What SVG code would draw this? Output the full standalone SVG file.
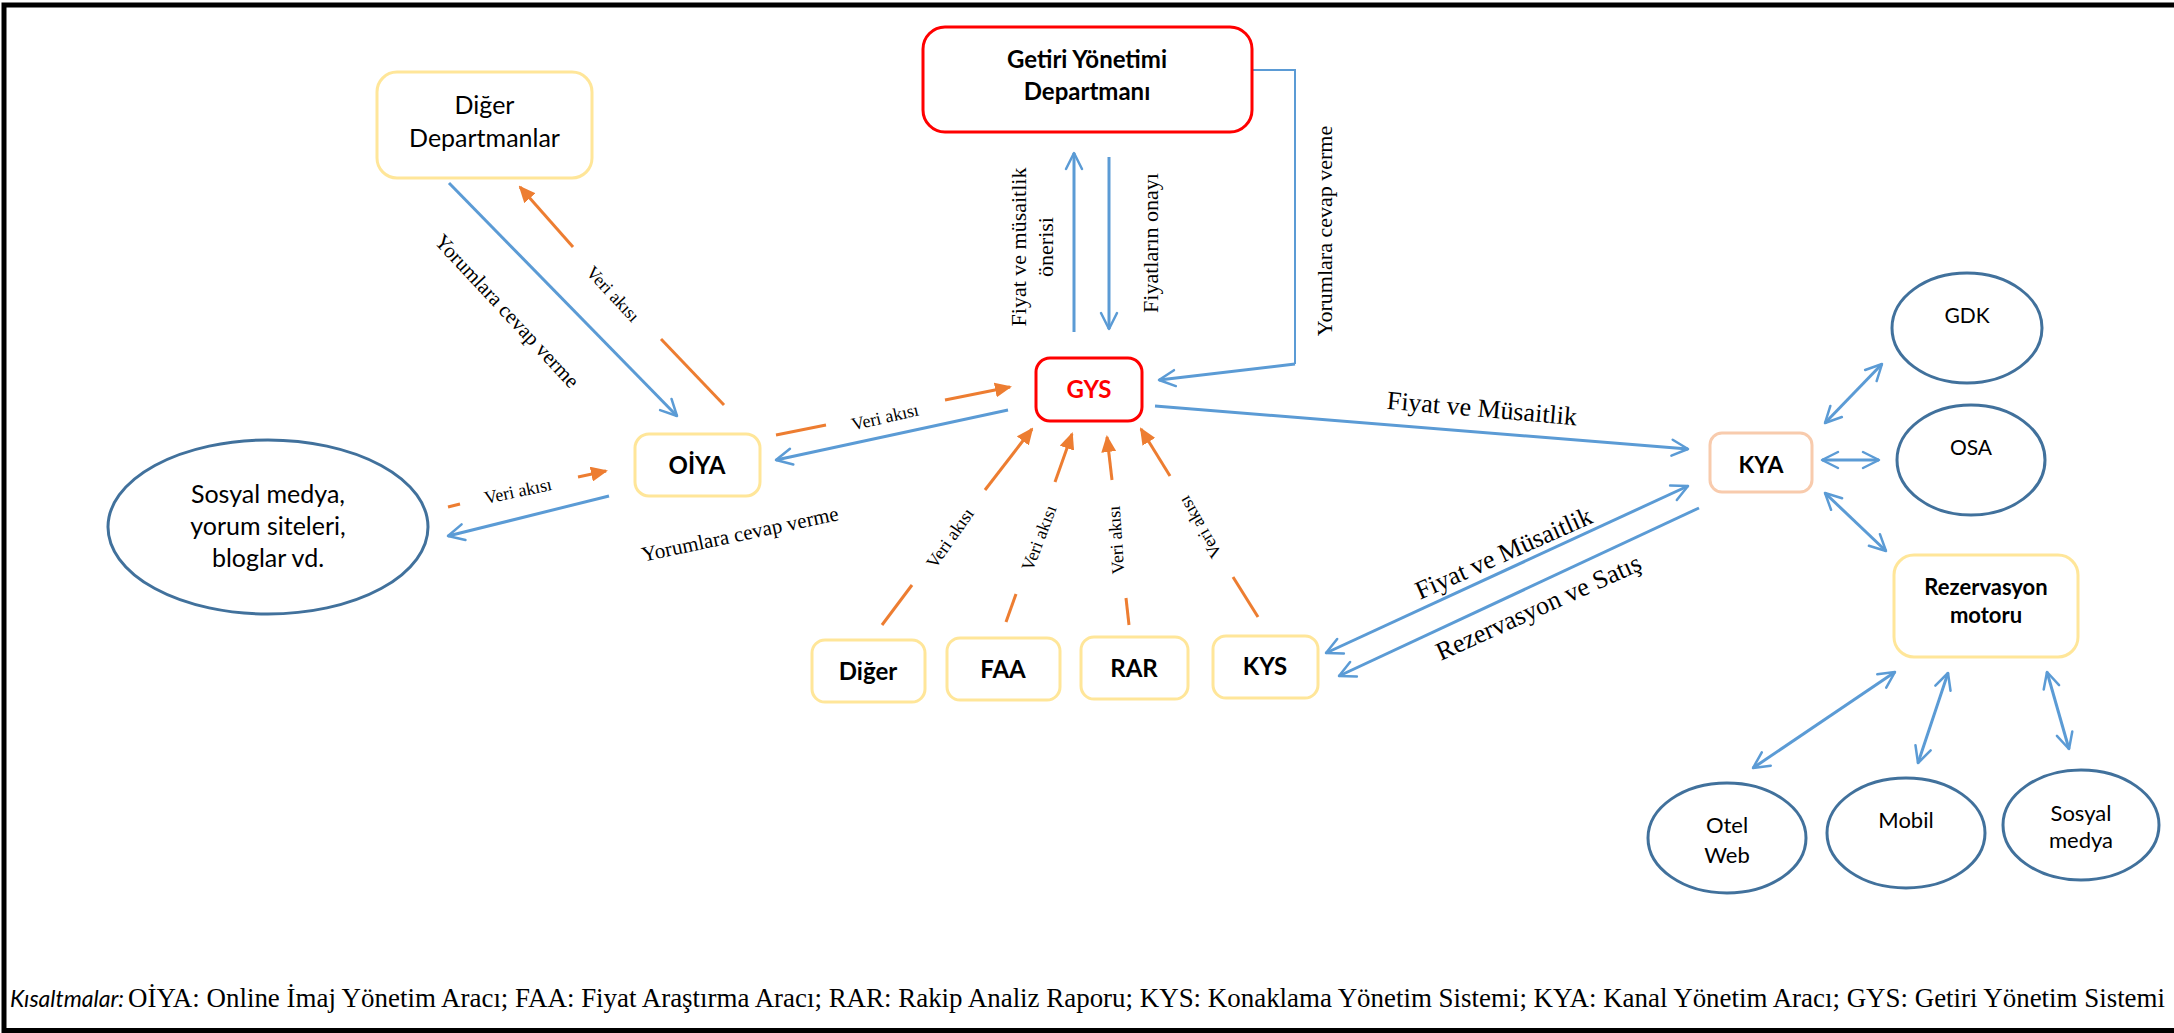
<svg xmlns="http://www.w3.org/2000/svg" width="2174" height="1033" viewBox="0 0 2174 1033">
  <style>
    .box { fill: #fff; stroke-width: 3; }
    .yel { stroke: #FFE699; }
    .red { stroke: #FF0000; }
    .peach { stroke: #F8CBAD; }
    .ell { fill: #fff; stroke: #41719C; stroke-width: 3; }
    .nd { font-family: Lato, "Open Sans", sans-serif; fill: #000; text-anchor: middle; }
    .b { font-weight: bold; }
    .lbl { font-family: "Liberation Serif", "Times New Roman", serif; fill: #000; text-anchor: middle; }
    .bl { stroke: #5B9BD5; stroke-width: 3; fill: none; }
    .thin { stroke-width: 2; }
    .or { stroke: #ED7D31; stroke-width: 3; fill: none; }
  </style>
  <defs>
    <marker id="open" viewBox="0 0 20 20" refX="18" refY="10" markerWidth="20" markerHeight="20" markerUnits="userSpaceOnUse" orient="auto-start-reverse">
      <path d="M2,2 L18,10 L2,18" fill="none" stroke="#5B9BD5" stroke-width="2.5" stroke-linecap="round" stroke-linejoin="round"/>
    </marker>
    <marker id="fill" viewBox="0 0 17 15" refX="15" refY="7.5" markerWidth="17" markerHeight="15" markerUnits="userSpaceOnUse" orient="auto">
      <path d="M0,0 L17,7.5 L0,15 z" fill="#ED7D31"/>
    </marker>
  </defs>

  <rect width="2174" height="1033" fill="#fff"/>
  <!-- frame: top, left and bottom rules -->
  <path d="M4,1033 V5 H2174 M4,1030.5 H2174" fill="none" stroke="#000" stroke-width="5"/>

  <g id="connectors">
    <!-- blue flows -->
    <line class="bl" x1="449" y1="183" x2="677" y2="416" marker-end="url(#open)"/>
    <line class="bl" x1="1008" y1="410" x2="776" y2="460" marker-end="url(#open)"/>
    <line class="bl" x1="609" y1="496" x2="448" y2="536" marker-end="url(#open)"/>
    <line class="bl" x1="1074" y1="332" x2="1074" y2="153" marker-end="url(#open)"/>
    <line class="bl" x1="1109" y1="157" x2="1109" y2="329" marker-end="url(#open)"/>
    <polyline class="bl thin" points="1252,70 1295,70 1295,364"/>
    <line class="bl" x1="1295" y1="364" x2="1159" y2="380" marker-end="url(#open)"/>
    <line class="bl" x1="1155" y1="406" x2="1688" y2="449" marker-end="url(#open)"/>
    <line class="bl" x1="1326" y1="653" x2="1688" y2="486" marker-start="url(#open)" marker-end="url(#open)"/>
    <line class="bl" x1="1699" y1="508" x2="1339" y2="676" marker-end="url(#open)"/>
    <line class="bl" x1="1825" y1="423" x2="1882" y2="364" marker-start="url(#open)" marker-end="url(#open)"/>
    <line class="bl" x1="1822" y1="460" x2="1879" y2="460" marker-start="url(#open)" marker-end="url(#open)"/>
    <line class="bl" x1="1825" y1="493" x2="1886" y2="551" marker-start="url(#open)" marker-end="url(#open)"/>
    <line class="bl" x1="1895" y1="672" x2="1753" y2="768" marker-start="url(#open)" marker-end="url(#open)"/>
    <line class="bl" x1="1948" y1="673" x2="1918" y2="763" marker-start="url(#open)" marker-end="url(#open)"/>
    <line class="bl" x1="2047" y1="672" x2="2069" y2="749" marker-start="url(#open)" marker-end="url(#open)"/>

    <!-- orange data flows, broken around their labels -->
    <line class="or" x1="724" y1="405" x2="661" y2="339"/>
    <line class="or" x1="573" y1="247" x2="520" y2="187" marker-end="url(#fill)"/>
    <line class="or" x1="448" y1="507" x2="460" y2="504"/>
    <line class="or" x1="578" y1="477" x2="606" y2="471" marker-end="url(#fill)"/>
    <line class="or" x1="776" y1="435" x2="826" y2="425"/>
    <line class="or" x1="945" y1="400" x2="1010" y2="387" marker-end="url(#fill)"/>
    <line class="or" x1="882" y1="625" x2="912" y2="585"/>
    <line class="or" x1="985" y1="490" x2="1032" y2="429" marker-end="url(#fill)"/>
    <line class="or" x1="1006" y1="622" x2="1016" y2="594"/>
    <line class="or" x1="1055" y1="482" x2="1072" y2="434" marker-end="url(#fill)"/>
    <line class="or" x1="1129" y1="625" x2="1126" y2="598"/>
    <line class="or" x1="1112" y1="480" x2="1107" y2="437" marker-end="url(#fill)"/>
    <line class="or" x1="1258" y1="617" x2="1233" y2="577"/>
    <line class="or" x1="1170" y1="476" x2="1141" y2="429" marker-end="url(#fill)"/>

    <!-- connector labels -->
    <g class="lbl" font-size="18">
      <text transform="translate(613,294) rotate(47)" y="6">Veri akısı</text>
      <text transform="translate(518,491) rotate(-12)" y="6">Veri akısı</text>
      <text transform="translate(885,417) rotate(-13)" y="6">Veri akısı</text>
      <text transform="translate(950,538) rotate(-55)" y="6">Veri akısı</text>
      <text transform="translate(1039,538) rotate(-69)" y="6">Veri akısı</text>
      <text transform="translate(1116,540) rotate(-94)" y="6">Veri akısı</text>
      <text transform="translate(1200,527) rotate(-120)" y="6">Veri akısı</text>
    </g>
    <g class="lbl" font-size="21">
      <text transform="translate(507,311) rotate(47)" y="7">Yorumlara cevap verme</text>
      <text transform="translate(740,534) rotate(-12)" y="7">Yorumlara cevap verme</text>
    </g>
    <g class="lbl" font-size="22">
      <text transform="translate(1019,247) rotate(-90)" y="7">Fiyat ve müsaitlik</text>
      <text transform="translate(1046,247) rotate(-90)" y="7">önerisi</text>
      <text transform="translate(1151,243) rotate(-90)" y="7">Fiyatların onayı</text>
      <text transform="translate(1325,231) rotate(-90)" y="7">Yorumlara cevap verme</text>
    </g>
    <g class="lbl" font-size="26">
      <text transform="translate(1482,408) rotate(5)" y="9">Fiyat ve Müsaitlik</text>
      <text transform="translate(1507,561) rotate(-24)">Fiyat ve Müsaitlik</text>
      <text transform="translate(1542,615) rotate(-24.4)">Rezervasyon ve Satış</text>
    </g>
  </g>

  <g id="diger-departmanlar">
    <rect class="box yel" x="377" y="72" width="215" height="106" rx="20"/>
    <text class="nd" font-size="25" x="484.5" y="114">Diğer</text>
    <text class="nd" font-size="25" x="484.5" y="147">Departmanlar</text>
  </g>
  <g id="getiri-yonetimi">
    <rect class="box red" x="923" y="27" width="329" height="105" rx="22"/>
    <text class="nd b" font-size="24" x="1087" y="68">Getiri Yönetimi</text>
    <text class="nd b" font-size="24" x="1087" y="100">Departmanı</text>
  </g>
  <g id="gys">
    <rect class="box red" x="1036" y="358" width="106" height="63" rx="14"/>
    <text class="nd b" font-size="24" x="1089" y="398" style="fill:#FF0000">GYS</text>
  </g>
  <g id="oiya">
    <rect class="box yel" x="635" y="434" width="125" height="62" rx="14"/>
    <text class="nd b" font-size="24" x="697" y="474">OİYA</text>
  </g>
  <g id="sosyal-medya-siteler">
    <ellipse class="ell" cx="268" cy="527" rx="160" ry="87"/>
    <text class="nd" font-size="25" x="268" y="503">Sosyal medya,</text>
    <text class="nd" font-size="25" x="268" y="535">yorum siteleri,</text>
    <text class="nd" font-size="25" x="268" y="567">bloglar vd.</text>
  </g>
  <g id="diger">
    <rect class="box yel" x="812" y="640" width="113" height="62" rx="13"/>
    <text class="nd b" font-size="24" x="868" y="680">Diğer</text>
  </g>
  <g id="faa">
    <rect class="box yel" x="947" y="638" width="113" height="62" rx="13"/>
    <text class="nd b" font-size="24" x="1003" y="678">FAA</text>
  </g>
  <g id="rar">
    <rect class="box yel" x="1081" y="637" width="107" height="62" rx="13"/>
    <text class="nd b" font-size="24" x="1134" y="677">RAR</text>
  </g>
  <g id="kys">
    <rect class="box yel" x="1213" y="636" width="105" height="62" rx="13"/>
    <text class="nd b" font-size="24" x="1265" y="675">KYS</text>
  </g>
  <g id="kya">
    <rect class="box peach" x="1710" y="433" width="102" height="59" rx="12"/>
    <text class="nd b" font-size="23" x="1761" y="473">KYA</text>
  </g>
  <g id="gdk">
    <ellipse class="ell" cx="1967" cy="328" rx="75" ry="55"/>
    <text class="nd" font-size="21" x="1967" y="323">GDK</text>
  </g>
  <g id="osa">
    <ellipse class="ell" cx="1971" cy="460" rx="74" ry="55"/>
    <text class="nd" font-size="21" x="1971" y="455">OSA</text>
  </g>
  <g id="rezervasyon-motoru">
    <rect class="box yel" x="1894" y="555" width="184" height="102" rx="20"/>
    <text class="nd b" font-size="22" x="1986" y="595">Rezervasyon</text>
    <text class="nd b" font-size="22" x="1986" y="623">motoru</text>
  </g>
  <g id="otel-web">
    <ellipse class="ell" cx="1727" cy="838" rx="79" ry="55"/>
    <text class="nd" font-size="22" x="1727" y="833">Otel</text>
    <text class="nd" font-size="22" x="1727" y="863">Web</text>
  </g>
  <g id="mobil">
    <ellipse class="ell" cx="1906" cy="833" rx="79" ry="55"/>
    <text class="nd" font-size="22" x="1906" y="828">Mobil</text>
  </g>
  <g id="sosyal-medya">
    <ellipse class="ell" cx="2081" cy="825" rx="78" ry="55"/>
    <text class="nd" font-size="22" x="2081" y="821">Sosyal</text>
    <text class="nd" font-size="22" x="2081" y="848">medya</text>
  </g>

  <g id="kisaltmalar">
    <text x="10" y="1007" font-family="Lato, 'Open Sans', sans-serif" font-style="italic" font-size="23" fill="#000">Kısaltmalar:</text>
    <text x="128" y="1007" font-family="'Liberation Serif', 'Times New Roman', serif" font-size="27" fill="#000" textLength="2037" lengthAdjust="spacingAndGlyphs">OİYA: Online İmaj Yönetim Aracı; FAA: Fiyat Araştırma Aracı; RAR: Rakip Analiz Raporu; KYS: Konaklama Yönetim Sistemi; KYA: Kanal Yönetim Aracı; GYS: Getiri Yönetim Sistemi</text>
  </g>
</svg>
